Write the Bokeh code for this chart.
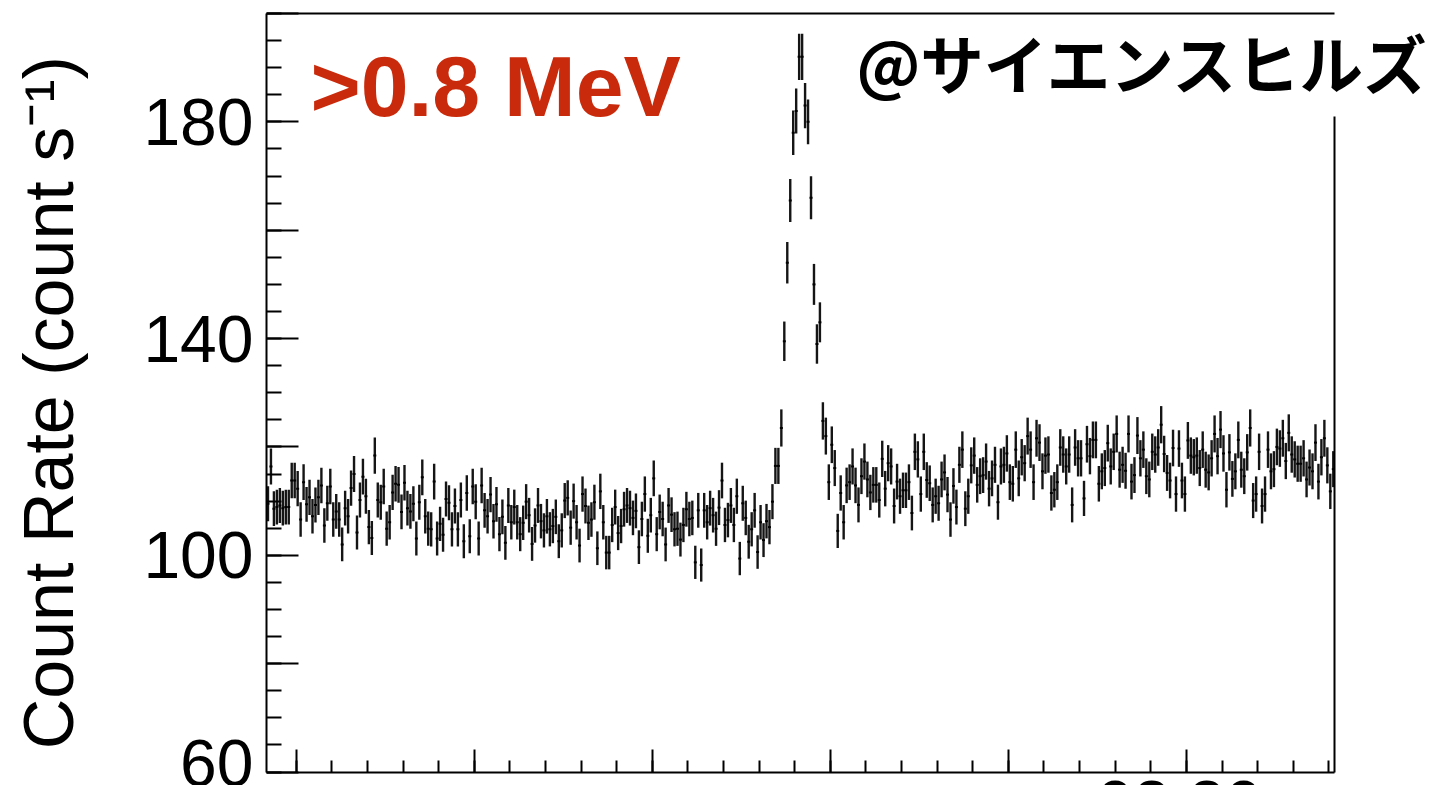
import numpy as np
from bokeh.plotting import figure
from bokeh.models import Range1d, FixedTicker, Label, LinearAxis, ColumnDataSource
from bokeh.embed import file_html
from bokeh.resources import INLINE

# ---------------- data (1-s bins, seconds from start of the window) ----------------
rate_before = [  # bins 0..170
    109.5, 116.4, 108.6, 108.9, 109.2, 108.7, 108.9, 108.9, 113.8, 113.8,
    112.3, 106.6, 113.5, 109.4, 110.7, 107.2, 109.3, 110.7, 112.9, 105.5,
    109.6, 112.7, 106.6, 108.1, 106.6, 102.0, 108.7, 107.2, 112.4, 115.0,
    104.2, 110.2, 114.5, 110.9, 105.2, 103.2, 118.4, 110.2, 109.8, 112.7,
    104.9, 106.1, 111.6, 113.2, 113.0, 108.0, 113.4, 108.7, 108.1, 109.5,
    103.1, 109.8, 114.4, 107.2, 104.9, 104.8, 113.6, 103.1, 105.8, 103.8,
    110.4, 109.7, 104.8, 109.1, 104.8, 110.2, 102.6, 111.5, 103.5, 112.7,
    109.9, 103.1, 112.9, 108.3, 107.2, 111.2, 106.3, 109.4, 103.9, 107.1,
    102.3, 109.2, 106.1, 108.9, 106.1, 103.9, 106.0, 109.9, 107.4, 102.1,
    105.5, 109.2, 106.3, 104.6, 107.2, 104.8, 105.4, 107.1, 102.6, 104.6,
    110.1, 110.6, 105.1, 110.0, 106.1, 101.8, 111.3, 109.1, 106.0, 106.6,
    109.8, 101.3, 111.8, 106.1, 100.5, 100.5, 105.6, 108.9, 104.1, 105.4,
    108.5, 109.2, 108.7, 106.9, 108.2, 101.5, 106.7, 111.3, 103.6, 107.4,
    114.2, 103.9, 108.0, 106.7, 102.0, 109.2, 107.5, 104.8, 104.9, 102.9,
    105.6, 108.5, 106.7, 106.9, 98.7, 108.3, 98.2, 108.3, 106.1, 108.7,
    107.4, 104.9, 108.8, 113.8, 105.6, 106.5, 109.2, 105.6, 110.9, 99.4,
    109.6, 106.9, 102.5, 104.8, 108.3, 100.6, 106.1, 102.8, 106.3, 105.2,
    109.9,
]
rate_flash = [  # bins 171..186
    116.5, 116.5, 123.5, 139.5, 154.0, 165.5, 178.0, 182.0,
    192.0, 192.0, 183.0, 180.0, 166.0, 150.0, 139.0, 143.0,
]
rate_after = [  # bins 187..359
    124.8, 122.0, 113.5, 120.4, 116.1, 104.5, 111.5, 106.1, 112.9, 113.5,
    116.4, 112.9, 109.3, 114.6, 117.3, 114.0, 111.6, 113.0, 113.0, 110.2,
    117.8, 112.3, 117.0, 116.4, 109.1, 113.6, 110.9, 112.0, 112.0, 113.5,
    107.8, 119.1, 117.7, 111.3, 119.1, 113.9, 113.3, 109.3, 110.9, 109.6,
    114.0, 115.3, 111.2, 106.6, 112.8, 108.9, 116.7, 119.5, 108.6, 110.9,
    116.6, 118.4, 113.0, 114.6, 114.8, 117.3, 112.3, 114.2, 116.7, 109.8,
    116.4, 116.7, 118.8, 113.5, 113.2, 119.5, 114.2, 118.1, 117.0, 122.0,
    119.5, 113.5, 121.6, 120.8, 115.5, 118.4, 118.6, 111.5, 112.1, 113.5,
    119.9, 118.6, 116.4, 118.6,
    109.3, 119.9, 117.9, 117.9, 110.5, 120.5, 118.3, 121.3, 121.3, 113.2,
    115.5, 116.1, 120.7, 116.4, 119.1, 122.4, 115.8, 116.7, 115.6, 122.4,
    113.6, 114.8, 122.1, 117.9, 119.5, 114.6, 114.0, 119.1, 118.6, 119.9,
    124.1, 118.7, 115.2, 113.8, 119.8, 111.3, 119.7, 113.8, 111.3, 121.2,
    118.4, 118.1, 118.4, 116.1, 119.5, 115.8, 115.3, 117.9, 122.4, 118.3,
    123.2, 118.8, 112.1, 119.0, 114.1, 115.5, 121.3, 115.8, 114.6, 119.0,
    123.5, 110.1, 111.3, 119.1, 109.1, 111.3, 119.5, 115.5, 115.9, 120.0,
    119.7, 121.6, 117.4, 122.6, 118.6, 117.7, 116.9, 116.9, 117.9, 114.0,
    116.2, 115.5, 120.8, 113.6, 118.1, 121.6, 116.6, 111.8, 115.9,
]
EXPOSURE_S = 10.5          # effective exposure per point (Poisson error bars)
BIN_S = 1.0                # bin width in seconds
T_END = 360                # length of the time window (s)

y_ticks = [60, 80, 100, 120, 140, 160, 180, 200]
y_tick_labels = {60: "60", 80: "", 100: "100", 120: "", 140: "140", 160: "", 180: "180", 200: ""}
x_major_ticks = [10, 70, 130, 190, 250, 310]
x_visible_label = "08:30"
y_title = "Count Rate (count s\u207b\u00b9)\u00a0"
band_text = ">0.8 MeV"
credit_text = "@サイエンスヒルズ"

# ---------------- derived ----------------
rate = np.array(rate_before + rate_flash + rate_after, dtype=float)
t = (np.arange(len(rate)) + 0.5) * BIN_S
err = np.sqrt(rate * EXPOSURE_S) / EXPOSURE_S
src = ColumnDataSource(dict(t=t, r=rate, lo=rate - err, hi=rate + err,
                            tl=t - 0.5 * BIN_S, tr=t + 0.5 * BIN_S))

FONT = "Liberation Sans"

# the data frame is 266..1334 px wide and 13..771.5 px tall; the plotting area is
# extended to the canvas edges so that the partly hidden texts can be drawn
p = figure(width=1431, height=785,
           x_range=Range1d(0, 392.6), y_range=Range1d(57.51, 202.40),
           output_backend="svg", toolbar_location=None, x_axis_location=None,
           min_border_left=266, min_border_right=0, min_border_top=0, min_border_bottom=0,
           outline_line_color=None, background_fill_color="white", border_fill_color="white")
p.grid.visible = False

# error bars + bin markers
p.segment(x0="t", y0="lo", x1="t", y1="hi", source=src, line_color="#151515", line_width=2.4)
p.segment(x0="tl", y0="r", x1="tr", y1="r", source=src, line_color="black", line_width=2)

# y axis (left)
ya = p.yaxis[0]
ya.bounds = (60, 200)
ya.ticker = FixedTicker(ticks=y_ticks, minor_ticks=list(range(60, 201, 5)))
ya.major_label_overrides = y_tick_labels
ya.major_label_text_font = FONT
ya.major_label_text_font_size = "66px"
ya.major_label_text_color = "black"
ya.major_label_standoff = 13
ya.major_tick_in = 32
ya.major_tick_out = 0
ya.minor_tick_in = 15
ya.minor_tick_out = 0
ya.major_tick_line_width = 2
ya.minor_tick_line_width = 2
ya.major_tick_line_color = "black"
ya.minor_tick_line_color = "black"
ya.axis_line_width = 2
ya.axis_line_color = "black"
ya.axis_label = y_title
ya.axis_label_text_font = FONT
ya.axis_label_text_font_size = "70px"
ya.axis_label_text_font_style = "normal"
ya.axis_label_text_color = "black"
ya.axis_label_standoff = 52

# x axis (bottom, at y = 60) – ticks only
xa = LinearAxis(fixed_location=60, bounds=(0, T_END),
                ticker=FixedTicker(ticks=x_major_ticks, minor_ticks=list(range(10, T_END + 1, 12))),
                major_label_overrides={v: "" for v in x_major_ticks},
                major_label_text_font_size="1px", major_label_standoff=0,
                major_tick_in=23, major_tick_out=0, minor_tick_in=12, minor_tick_out=0,
                major_tick_line_width=2, minor_tick_line_width=2,
                major_tick_line_color="black", minor_tick_line_color="black",
                axis_line_width=2, axis_line_color="black")
p.add_layout(xa, "below")

# top frame line (y = 200)
top = LinearAxis(fixed_location=200, bounds=(0, T_END), ticker=FixedTicker(ticks=[]),
                 major_tick_in=0, major_tick_out=0, minor_tick_in=0, minor_tick_out=0,
                 major_label_text_font_size="1px", major_label_standoff=0,
                 axis_line_width=2, axis_line_color="black")
p.add_layout(top, "above")

# right frame line (hidden behind the credit near the top)
right = LinearAxis(fixed_location=T_END, bounds=(60, 181), ticker=FixedTicker(ticks=[]),
                   major_tick_in=0, major_tick_out=0, minor_tick_in=0, minor_tick_out=0,
                   major_label_text_font_size="1px", major_label_standoff=0,
                   axis_line_width=2, axis_line_color="black")
p.add_layout(right, "right")

# texts
p.add_layout(Label(x=14.8, y=186.7, text=band_text, text_font=FONT, text_font_size="86px",
                   text_font_style="bold", text_color="#C92A0B", text_baseline="middle"))
p.add_layout(Label(x=198.8, y=191.3, text=credit_text, text_font="Noto Sans CJK JP",
                   text_font_size="63.5px", text_font_style="bold", text_color="black",
                   text_baseline="middle"))
p.add_layout(Label(x=307.6, y=54.13, text=x_visible_label, text_font=FONT, text_font_size="66px",
                   text_color="black", text_align="center", text_baseline="middle"))

open("out.html", "w").write(file_html(p, INLINE))
